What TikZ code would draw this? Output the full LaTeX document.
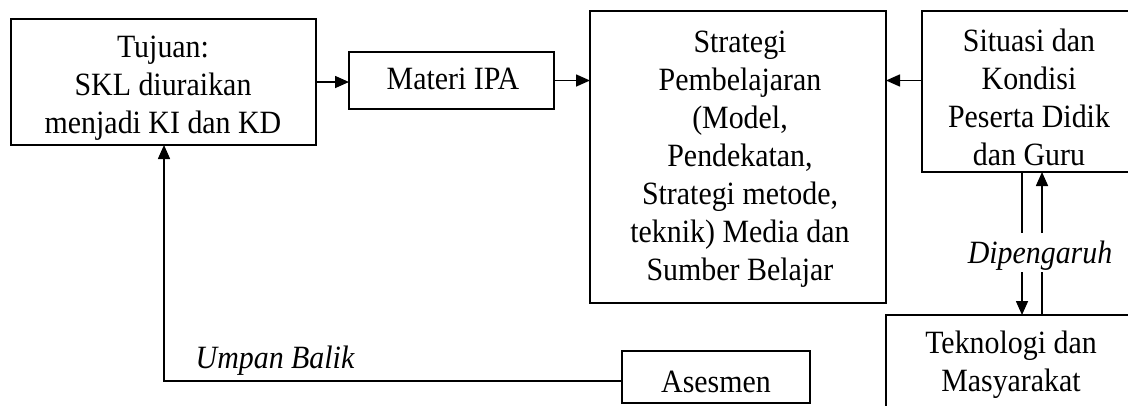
\documentclass[tikz,border=0pt]{standalone}
\usepackage{fontspec}
\setmainfont[FakeStretch=0.92]{Liberation Serif}
\usetikzlibrary{arrows.meta}
\begin{document}
\begin{tikzpicture}[x=1pt,y=-1pt,
  every node/.style={inner sep=0pt, outer sep=0pt},
  boxnode/.style={draw, line width=1.5pt, rectangle},
  txt/.style={align=center, font=\fontsize{32.5}{38}\selectfont},
  itxt/.style={font=\fontsize{32.5}{38}\selectfont\itshape},
  conn/.style={line width=1.6pt},
  arr/.style={line width=1.6pt, -{Triangle[length=14pt,width=12pt]}}]
\clip (0,0) rectangle (1128,405);
\fill[white] (0,0) rectangle (1128,405);
% boxes
\node[boxnode, minimum width=305pt, minimum height=126pt] (tujuan) at (163.5,82) {};
\node[boxnode, minimum width=205pt, minimum height=57pt] (materi) at (451.5,80.5) {};
\node[boxnode, minimum width=296pt, minimum height=292pt] (strategi) at (738,157) {};
\node[boxnode, minimum width=214pt, minimum height=161pt] (situasi) at (1029,91.5) {};
\node[boxnode, minimum width=250pt, minimum height=110pt] (tekno) at (1011,370) {};
\node[boxnode, minimum width=188pt, minimum height=52pt] (asesmen) at (716,377) {};
% texts
\node[txt] (tujuanT) at (163,88) {Tujuan:\\SKL diuraikan\\menjadi KI dan KD};
\node[txt, anchor=base] (materiT) at (453,89) {Materi IPA};
\node[txt] (strategiT) at (740,159) {Strategi\\Pembelajaran\\(Model,\\Pendekatan,\\Strategi metode,\\teknik) Media dan\\Sumber Belajar};
\node[txt] (situasiT) at (1029,97.5) {Situasi dan\\Kondisi\\Peserta Didik\\dan Guru};
\node[txt] (teknoT) at (1011,364.5) {Teknologi dan\\Masyarakat};
\node[txt, anchor=base] (asesmenT) at (716,392) {Asesmen};
\node[itxt, anchor=base] (dipengaruh) at (1040,263) {Dipengaruh};
\node[itxt, anchor=base] (umpan) at (275,368) {Umpan Balik};
% connectors
\draw[arr] (tujuan.east) -- (tujuan.east -| materi.west);
\draw[arr] (materi.east) -- (materi.east -| strategi.west);
\draw[arr] (situasi.west |- materi.east) -- (materi.east -| strategi.east);
\coordinate (fbcorner) at (164,381);
\draw[arr] (asesmen.west |- fbcorner) -- (fbcorner) -- (tujuan.south -| fbcorner);
\coordinate (dl1) at (1022,233);
\coordinate (dl2) at (1022,272);
\coordinate (dr1) at (1042,233);
\coordinate (dr2) at (1042,272);
\draw[conn] (situasi.south -| dl1) -- (dl1);
\draw[arr] (dl2) -- (dl2 |- tekno.north);
\draw[conn] (tekno.north -| dr2) -- (dr2);
\draw[arr] (dr1) -- (dr1 |- situasi.south);
\end{tikzpicture}
\end{document}
